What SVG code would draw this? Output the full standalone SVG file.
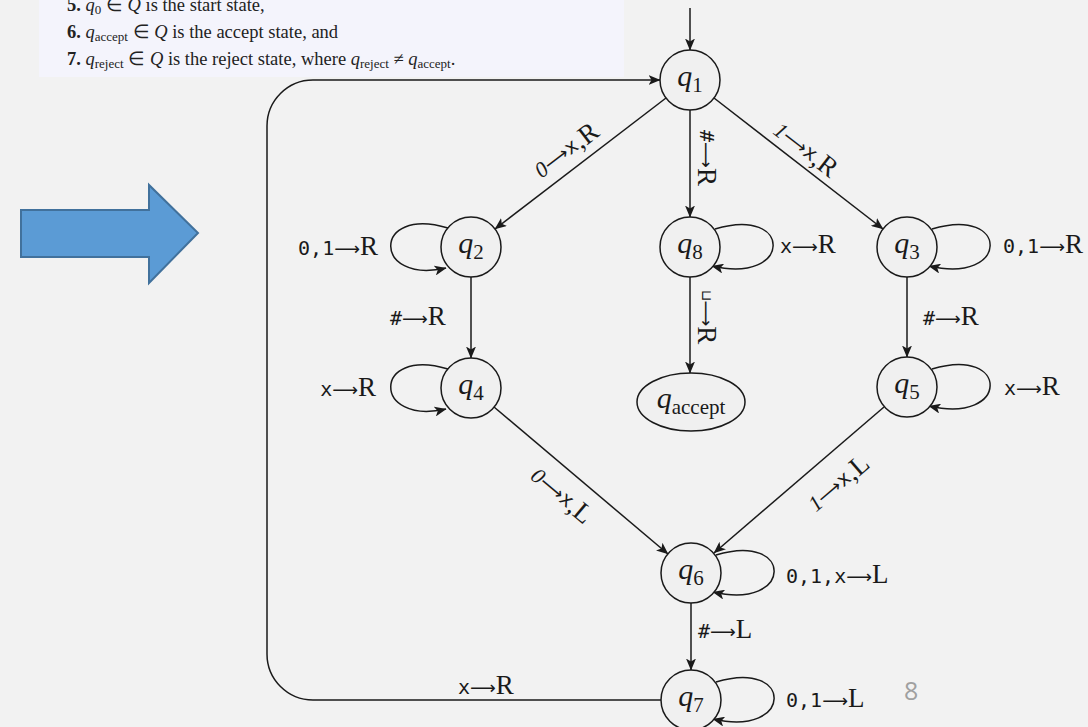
<svg xmlns="http://www.w3.org/2000/svg" width="1088" height="727" viewBox="0 0 1088 727">
<style>
.ed{fill:none;stroke:#1a1a1a;stroke-width:1.5}
.nd{fill:#f0f0f0;stroke:#1a1a1a;stroke-width:1.5}
.nl{font-family:"Liberation Serif",serif;font-style:italic;font-size:30px;fill:#1a1a1a}
.sub{font-style:normal;font-size:21px}
.lb{font-family:"Liberation Serif",serif;font-size:27px;fill:#1a1a1a}
.tt{font-family:"DejaVu Sans Mono",monospace;font-size:20px}
.ar{font-family:"DejaVu Sans",sans-serif;font-size:18px}
.it{font-style:italic;font-size:22px}
.bt{font-family:"Liberation Serif",serif;font-size:18.5px;fill:#222}
.bsub{font-size:13px}
</style>
<defs>
<marker id="ah" viewBox="0 0 12 10" refX="11.5" refY="5" markerWidth="12" markerHeight="10" orient="auto" markerUnits="userSpaceOnUse">
<path d="M0,0 L12,5 L0,10 L3,5 z" fill="#1a1a1a"/>
</marker>
</defs>
<rect width="1088" height="727" fill="#f2f2f2"/>
<rect x="39" y="0" width="585" height="77" fill="#f4f4fc"/>
<text class="bt" x="67" y="11"><tspan font-weight="bold">5.</tspan> <tspan font-style="italic">q</tspan><tspan class="bsub" dy="3">0</tspan><tspan dy="-3"> ∈ </tspan><tspan font-style="italic">Q</tspan> is the start state,</text>
<text class="bt" x="67" y="38"><tspan font-weight="bold">6.</tspan> <tspan font-style="italic">q</tspan><tspan class="bsub" dy="3">accept</tspan><tspan dy="-3"> ∈ </tspan><tspan font-style="italic">Q</tspan> is the accept state, and</text>
<text class="bt" x="67" y="65"><tspan font-weight="bold">7.</tspan> <tspan font-style="italic">q</tspan><tspan class="bsub" dy="3">reject</tspan><tspan dy="-3"> ∈ </tspan><tspan font-style="italic">Q</tspan> is the reject state, where <tspan font-style="italic">q</tspan><tspan class="bsub" dy="3">reject</tspan><tspan dy="-3"> ≠ </tspan><tspan font-style="italic">q</tspan><tspan class="bsub" dy="3">accept</tspan><tspan dy="-3">.</tspan></text>
<polygon points="21,210 149,210 149,185 198,233 149,283 149,257 21,257" fill="#5b9bd5" stroke="#41719c" stroke-width="2"/>
<g id="connectors">
<path class="ed" marker-end="url(#ah)" d="M690,8 V50"/>
<path class="ed" marker-end="url(#ah)" d="M666,98 L495,229"/>
<path class="ed" marker-end="url(#ah)" d="M690,110 V217"/>
<path class="ed" marker-end="url(#ah)" d="M714,98 L883,229"/>
<path class="ed" marker-end="url(#ah)" d="M471,277 V358"/>
<path class="ed" marker-end="url(#ah)" d="M690,277 V373"/>
<path class="ed" marker-end="url(#ah)" d="M907,277 V357"/>
<path class="ed" marker-end="url(#ah)" d="M494,407 L668,554"/>
<path class="ed" marker-end="url(#ah)" d="M884,407 L714,553"/>
<path class="ed" marker-end="url(#ah)" d="M691,603 V670"/>
<path class="ed" marker-end="url(#ah)" d="M661,700 H313 A46,46 0 0 1 267,654 V126 A46,46 0 0 1 313,80 H660"/>
<path class="ed" marker-end="url(#ah)" d="M448,228 C372,205 372,285 446,268"/>
<path class="ed" marker-end="url(#ah)" d="M448,369 C372,346 372,426 446,409"/>
<path class="ed" marker-end="url(#ah)" d="M715,229 C793,205 793,285 712,266"/>
<path class="ed" marker-end="url(#ah)" d="M932,229 C1010,205 1010,285 929,266"/>
<path class="ed" marker-end="url(#ah)" d="M932,369 C1010,345 1010,425 929,406"/>
<path class="ed" marker-end="url(#ah)" d="M716,555 C794,531 794,611 713,592"/>
<path class="ed" marker-end="url(#ah)" d="M716,682 C794,658 794,738 713,719"/>
<text class="lb" transform="translate(566,150) rotate(-37.3)" text-anchor="middle" dominant-baseline="central"><tspan class="it">0</tspan><tspan class="ar">⟶</tspan><tspan class="tt">x</tspan>,R</text>
<text class="lb" transform="translate(707,158) rotate(90)" text-anchor="middle" dominant-baseline="central"><tspan class="tt">#</tspan><tspan class="ar">⟶</tspan>R</text>
<text class="lb" transform="translate(806,149) rotate(37.6)" text-anchor="middle" dominant-baseline="central"><tspan class="it">1</tspan><tspan class="ar">⟶</tspan><tspan class="tt">x</tspan>,R</text>
<text class="lb" transform="translate(707,317) rotate(90)" text-anchor="middle" dominant-baseline="central"><tspan font-family="DejaVu Sans" font-size="14px">⊔</tspan><tspan class="ar">⟶</tspan>R</text>
<text class="lb" transform="translate(562,495) rotate(40.1)" text-anchor="middle" dominant-baseline="central"><tspan class="it">0</tspan><tspan class="ar">⟶</tspan><tspan class="tt">x</tspan>,L</text>
<text class="lb" transform="translate(838,483) rotate(-40.7)" text-anchor="middle" dominant-baseline="central"><tspan class="it">1</tspan><tspan class="ar">⟶</tspan><tspan class="tt">x</tspan>,L</text>
<text class="lb" x="378" y="255" text-anchor="end"><tspan class="tt">0,1</tspan><tspan class="ar">⟶</tspan>R</text>
<text class="lb" x="376" y="396" text-anchor="end"><tspan class="tt">x</tspan><tspan class="ar">⟶</tspan>R</text>
<text class="lb" x="390" y="325"><tspan class="tt">#</tspan><tspan class="ar">⟶</tspan>R</text>
<text class="lb" x="780" y="253"><tspan class="tt">x</tspan><tspan class="ar">⟶</tspan>R</text>
<text class="lb" x="1003" y="253"><tspan class="tt">0,1</tspan><tspan class="ar">⟶</tspan>R</text>
<text class="lb" x="923" y="325"><tspan class="tt">#</tspan><tspan class="ar">⟶</tspan>R</text>
<text class="lb" x="1004" y="395"><tspan class="tt">x</tspan><tspan class="ar">⟶</tspan>R</text>
<text class="lb" x="786" y="583"><tspan class="tt">0,1,x</tspan><tspan class="ar">⟶</tspan>L</text>
<text class="lb" x="698" y="638"><tspan class="tt">#</tspan><tspan class="ar">⟶</tspan>L</text>
<text class="lb" x="786" y="707"><tspan class="tt">0,1</tspan><tspan class="ar">⟶</tspan>L</text>
<text class="lb" x="458" y="694"><tspan class="tt">x</tspan><tspan class="ar">⟶</tspan>R</text>
</g>
<g id="q1"><circle class="nd" cx="690" cy="80" r="30"/><text class="nl" x="690" y="86" text-anchor="middle">q<tspan class="sub" dy="6">1</tspan></text></g>
<g id="q2"><circle class="nd" cx="471" cy="247" r="30"/><text class="nl" x="471" y="253" text-anchor="middle">q<tspan class="sub" dy="6">2</tspan></text></g>
<g id="q8"><circle class="nd" cx="690" cy="247" r="30"/><text class="nl" x="690" y="253" text-anchor="middle">q<tspan class="sub" dy="6">8</tspan></text></g>
<g id="q3"><circle class="nd" cx="907" cy="247" r="30"/><text class="nl" x="907" y="253" text-anchor="middle">q<tspan class="sub" dy="6">3</tspan></text></g>
<g id="q4"><circle class="nd" cx="471" cy="388" r="30"/><text class="nl" x="471" y="394" text-anchor="middle">q<tspan class="sub" dy="6">4</tspan></text></g>
<g id="qaccept"><ellipse class="nd" cx="691" cy="402" rx="54" ry="29"/><text class="nl" x="691" y="408" text-anchor="middle">q<tspan class="sub" dy="6">accept</tspan></text></g>
<g id="q5"><circle class="nd" cx="907" cy="387" r="30"/><text class="nl" x="907" y="393" text-anchor="middle">q<tspan class="sub" dy="6">5</tspan></text></g>
<g id="q6"><circle class="nd" cx="691" cy="573" r="30"/><text class="nl" x="691" y="579" text-anchor="middle">q<tspan class="sub" dy="6">6</tspan></text></g>
<g id="q7"><circle class="nd" cx="691" cy="700" r="30"/><text class="nl" x="691" y="706" text-anchor="middle">q<tspan class="sub" dy="6">7</tspan></text></g>
<text x="904" y="700" font-family="Open Sans, sans-serif" font-size="25px" fill="#a0a0a0">8</text>
</svg>
